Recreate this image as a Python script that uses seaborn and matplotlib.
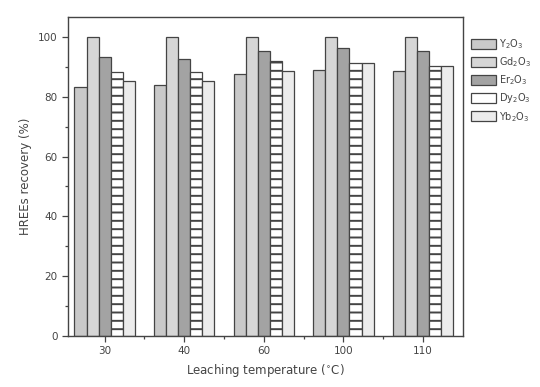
import pandas as pd
import seaborn as sns
import matplotlib.pyplot as plt
from matplotlib.ticker import MultipleLocator, FixedLocator

temps = ["30", "40", "60", "100", "110"]
oxides = ["Y$_2$O$_3$", "Gd$_2$O$_3$", "Er$_2$O$_3$", "Dy$_2$O$_3$", "Yb$_2$O$_3$"]
y2o3 = [83.2, 84.0, 87.6, 89.0, 88.5]
gd2o3 = [100.0, 100.0, 100.0, 100.0, 100.0]
er2o3 = [93.2, 92.6, 95.4, 96.4, 95.2]
dy2o3 = [88.4, 88.4, 92.0, 91.4, 90.4]
yb2o3 = [85.2, 85.4, 88.8, 91.4, 90.4]

colors = ["#c9c9c9", "#d6d6d6", "#a3a3a3", "#ffffff", "#ececec"]
hatches = ["", "", "", "--", ""]


def make_frame():
    rows = []
    for name, vals in zip(oxides, [y2o3, gd2o3, er2o3, dy2o3, yb2o3]):
        for t, v in zip(temps, vals):
            rows.append({"temp": t, "oxide": name, "recovery": v})
    return pd.DataFrame(rows)


def draw(df):
    sns.set_style("ticks")
    plt.rcParams["hatch.color"] = "#777777"
    plt.rcParams["hatch.linewidth"] = 1.4
    fig = plt.figure(figsize=(5.4, 3.87), dpi=100)
    ax = fig.add_axes([0.126, 0.132, 0.731, 0.824])
    sns.barplot(data=df, x="temp", y="recovery", hue="oxide", order=temps,
                hue_order=oxides, palette=colors, width=0.76,
                edgecolor="#444444", linewidth=0.9, saturation=1, ax=ax)
    for cont, h in zip(ax.containers, hatches):
        for p in cont.patches:
            p.set_hatch(h)

    ax.set_ylim(0, 106.7)
    ax.set_xlim(-0.46, 4.5)
    ax.yaxis.set_major_locator(MultipleLocator(20))
    ax.yaxis.set_minor_locator(MultipleLocator(10))
    ax.xaxis.set_minor_locator(FixedLocator([0.5, 1.5, 2.5, 3.5]))
    ax.tick_params(axis="both", which="major", labelsize=7.5, colors="#444444",
                   length=4, width=0.9)
    ax.tick_params(axis="both", which="minor", length=2.5, width=0.9, color="#444444")
    for s in ax.spines.values():
        s.set_color("#444444")
        s.set_linewidth(1.0)
    ax.set_xlabel("Leaching temperature ($^{\\circ}$C)", fontsize=8.5, color="#444444")
    ax.set_ylabel("HREEs recovery (%)", fontsize=8.5, color="#444444")

    handles, labels = ax.get_legend_handles_labels()
    leg = ax.legend(handles, labels, loc="upper left", bbox_to_anchor=(1.01, 0.95),
                    frameon=False, fontsize=7, handlelength=2.6, handleheight=1.2,
                    labelspacing=0.45, handletextpad=0.3, borderaxespad=0)
    for t in leg.get_texts():
        t.set_color("#444444")
    fig.savefig("out.png", dpi=100)


if __name__ == "__main__":
    draw(make_frame())
